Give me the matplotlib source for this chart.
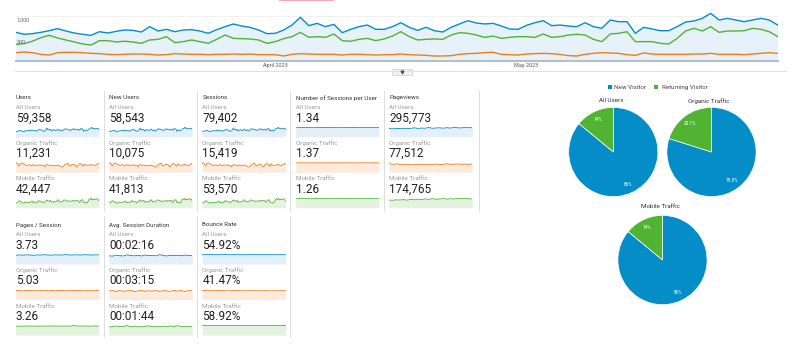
import numpy as np
import pandas as pd
import matplotlib
matplotlib.use('Agg')
import matplotlib.pyplot as plt
from matplotlib.patches import Rectangle

plt.rcParams['font.family'] = ['Roboto', 'DejaVu Sans']

W, H = 805, 361

# --- données journalières (utilisateurs), 1er mars -> 31 mai 2023
dates = pd.date_range('2023-03-01', '2023-05-31', freq='D')

all_users = [633, 589, 604, 633, 669, 713, 662, 618, 589, 567,
             647, 618, 655, 684, 677, 640, 758, 662, 699, 647,
             684, 691, 662, 611, 691, 758, 817, 772, 743, 684,
             604, 611, 684, 794, 964, 780, 831, 758, 809, 625,
             699, 758, 794, 699, 699, 758,
             845, 744, 677, 744, 669, 640, 744, 817, 890, 839,
             817, 831, 772, 706, 699, 787, 845, 890, 780, 794,
             772, 758, 845, 758, 721, 905, 868, 868, 611, 744,
             706, 669, 669, 758, 861, 883, 942, 1052, 905, 942,
             905, 868, 905, 942, 905, 794]
mobile_users = [368, 384, 436, 515, 567, 508, 464, 420, 375, 353,
                449, 449, 420, 436, 420, 390, 464, 478, 537, 405,
                427, 464, 427, 390, 478, 574, 500, 493, 486, 464,
                390, 427, 493, 537, 633, 522, 537, 522, 596, 449,
                436, 478, 500, 449, 486, 552,
                647, 537, 464, 478, 486, 478, 574, 625, 611, 574,
                522, 552, 500, 522, 537, 537, 522, 596, 522, 537,
                574, 589, 574, 478, 427, 596, 611, 647, 427, 427,
                427, 390, 375, 500, 662, 721, 662, 758, 633, 662,
                662, 669, 721, 699, 647, 537]
organic_users = [184, 199, 184, 147, 132, 184, 191, 191, 184, 169,
                 162, 147, 140, 147, 154, 154, 147, 132, 140, 162,
                 154, 147, 147, 140, 147, 147, 154, 147, 154, 140,
                 140, 140, 110, 147, 162, 154, 147, 147, 147, 132,
                 147, 147, 140, 132, 140, 140,
                 154, 140, 132, 125, 110, 110, 118, 147, 162, 169,
                 184, 191, 147, 140, 132, 154, 162, 169, 162, 147,
                 118, 110, 147, 169, 184, 177, 169, 140, 125, 177,
                 154, 147, 147, 147, 147, 154, 154, 169, 147, 147,
                 147, 140, 154, 169, 184, 169]

month_ticks = ['2023-04-01', '2023-05-01']
month_labels = ['April 2023', 'May 2023']

# --- tableaux de bord
segments = ['All Users', 'Organic Traffic', 'Mobile Traffic']
metrics = ['Users', 'New Users', 'Sessions', 'Number of Sessions per User',
           'Pageviews', 'Pages / Session', 'Avg. Session Duration', 'Bounce Rate']
values_all = ['59,358', '58,543', '79,402', '1.34', '295,773', '3.73', '00:02:16', '54.92%']
values_org = ['11,231', '10,075', '15,419', '1.37', '77,512', '5.03', '00:03:15', '41.47%']
values_mob = ['42,447', '41,813', '53,570', '1.26', '174,765', '3.26', '00:01:44', '58.92%']

# sparklines (lecture approximative)
spu_all = [1.34, 1.34, 1.33, 1.34, 1.34, 1.35, 1.34, 1.34, 1.33, 1.34, 1.34, 1.34,
           1.35, 1.34, 1.34, 1.34, 1.33, 1.34, 1.34, 1.34, 1.35, 1.34, 1.34, 1.34]
spu_org = [1.36, 1.38, 1.37, 1.36, 1.37, 1.38, 1.37, 1.36, 1.37, 1.37, 1.38, 1.36,
           1.37, 1.37, 1.38, 1.37, 1.36, 1.37, 1.38, 1.37, 1.37, 1.36, 1.38, 1.37]
spu_mob = [1.26, 1.25, 1.26, 1.26, 1.27, 1.26, 1.25, 1.26, 1.26, 1.26, 1.27, 1.26,
           1.26, 1.25, 1.26, 1.26, 1.27, 1.26, 1.26, 1.26, 1.25, 1.26, 1.27, 1.26]
pv_all = [3050, 2900, 3100, 3000, 3150, 2950, 3100, 3300, 3050, 3200, 3150, 3400,
          3100, 3250, 3300, 3150, 3350, 3200, 3450, 3300, 3250, 3500, 3300, 3400]
pv_org = [1000, 780, 900, 820, 800, 850, 780, 820, 800, 860, 790, 840,
          810, 870, 800, 830, 900, 820, 860, 880, 830, 870, 820, 880]
pv_mob = [1700, 1650, 1750, 1720, 1800, 1680, 1850, 1760, 1900, 1800, 1950, 1850,
          2000, 1880, 1950, 2050, 1900, 2000, 1950, 2100, 1980, 2050, 1950, 2000]
pps_all = [3.6, 3.75, 3.65, 3.8, 3.7, 3.6, 3.75, 3.7, 3.85, 3.7, 3.65, 3.8,
           3.7, 3.75, 3.9, 3.7, 3.75, 3.8, 3.7, 3.85, 3.75, 3.7, 3.8, 3.75]
pps_org = [4.9, 5.2, 4.8, 5.1, 4.9, 5.3, 4.8, 5.0, 5.2, 4.9, 5.1, 4.8,
           5.2, 5.0, 5.3, 4.9, 5.1, 5.2, 4.8, 5.3, 5.0, 4.9, 5.2, 5.0]
pps_mob = [3.2, 3.25, 3.2, 3.3, 3.22, 3.28, 3.2, 3.25, 3.3, 3.22, 3.35, 3.25,
           3.3, 3.2, 3.28, 3.25, 3.45, 3.3, 3.25, 3.3, 3.2, 3.28, 3.3, 3.25]
dur_all = [130, 125, 140, 132, 128, 145, 135, 130, 138, 127, 142, 133,
           136, 130, 150, 135, 128, 140, 133, 138, 130, 142, 135, 132]
dur_org = [190, 210, 180, 205, 185, 200, 215, 180, 195, 210, 185, 200,
           190, 215, 180, 205, 195, 185, 210, 190, 205, 180, 215, 195]
dur_mob = [98, 102, 110, 100, 105, 115, 100, 108, 102, 98, 106, 112,
           100, 104, 99, 108, 103, 110, 101, 115, 100, 106, 104, 102]
br_all = [55, 54.8, 55.1, 54.9, 54.7, 55.2, 55.5, 55, 54.8, 54.9, 55.1, 54.6,
          54.9, 55, 55.3, 54.8, 55, 54.9, 55.1, 55, 54.7, 55, 54.9, 55]
br_org = [41, 42, 41.5, 42.5, 41.2, 42, 41.8, 43, 41.5, 42.2, 41.4, 42,
          42.8, 41.6, 42.3, 41.8, 42.6, 41.5, 42.2, 43, 41.7, 42.5, 42, 41.8]
br_mob = [59, 58.8, 59.1, 59, 58.9, 59.2, 58.8, 59, 59.1, 58.9, 59, 58.8,
          59.2, 59, 58.9, 59.1, 59, 58.8, 59, 59.1, 58.9, 59, 59.1, 59]

# Users / New Users / Sessions : même allure que la courbe principale
spark_data = [
    (all_users, organic_users, mobile_users),
    (all_users, organic_users, mobile_users),
    (all_users, organic_users, mobile_users),
    (spu_all, spu_org, spu_mob),
    (pv_all, pv_org, pv_mob),
    (pps_all, pps_org, pps_mob),
    (dur_all, dur_org, dur_mob),
    (br_all, br_org, br_mob),
]

# --- camemberts
pie_titles = ['All Users', 'Organic Traffic', 'Mobile Traffic']
pie_new = [86, 79.8, 86]
pie_ret = [14, 20.1, 14]
pie_labels_new = ['86%', '79.8%', '86%']
pie_labels_ret = ['14%', '20.1%', '14%']
legend_labels = ['New Visitor', 'Returning Visitor']

BLUE, GREEN, ORANGE = '#058DC7', '#50B432', '#ED7E17'
LIGHT = {BLUE: '#e3eff9', ORANGE: '#fcebdc', GREEN: '#e3f3dd'}
seg_colors = [BLUE, ORANGE, GREEN]

fig = plt.figure(figsize=(W / 100, H / 100), dpi=100)
fig.patch.set_facecolor('white')


def add_ax(x0, y0, x1, y1):
    # coordonnées en pixels, y depuis le haut
    return fig.add_axes([x0 / W, 1 - y1 / H, (x1 - x0) / W, (y1 - y0) / H])


bg = fig.add_axes([0, 0, 1, 1])
bg.set_xlim(0, W)
bg.set_ylim(H, 0)
bg.axis('off')

# 1. Courbe principale
ax = add_ax(15.7, 8, 777.7, 61)
ax.fill_between(dates, all_users, 0, color='#e6f1fa', lw=0)
ax.axhline(500, color='#eeeeee', lw=0.6, zorder=0)
ax.axhline(1000, color='#eeeeee', lw=0.6, zorder=0)
ax.plot(dates, organic_users, color=ORANGE, lw=1.0)
ax.plot(dates, mobile_users, color=GREEN, lw=1.0)
ax.plot(dates, all_users, color=BLUE, lw=1.0)
ax.set_xlim(dates[0], dates[-1])
ax.set_ylim(0, 1170)
ax.set_yticks([])
ax.set_xticks(pd.to_datetime(month_ticks))
ax.set_xticklabels(month_labels, fontsize=4, color='#555555')
ax.tick_params(axis='x', length=0, pad=1.8)
for s in ['top', 'left', 'right']:
    ax.spines[s].set_visible(False)
ax.spines['bottom'].set_color('#b5bfca')
ax.spines['bottom'].set_linewidth(1.5)
ax.patch.set_alpha(0)

# étiquettes de l'axe y, au-dessus du remplissage
fig.text(16.7 / W, 1 - 20 / H, '1,000', fontsize=4, color='#666666', va='center')
fig.text(16.7 / W, 1 - 43 / H, '500', fontsize=4, color='#666666', va='center')

bg.plot([15, 786], [71, 71], color='#e2e2e2', lw=0.8)
bg.add_patch(Rectangle((392, 68.5), 20, 6, facecolor='#f2f2f2', edgecolor='#cccccc', lw=0.5))
bg.plot([402], [71.5], marker='v', markersize=2, color='#555555')
bg.add_patch(Rectangle((279, 0), 55, 1.4, facecolor='#f4a7b9', lw=0))

# 2. Tableaux de bord
col_x = [15.7, 109, 202.3, 295.7, 389, 15.7, 109, 202.3]
block_top = [97.7] * 5 + [225] * 3
SPARK_W = 83.3
for i, name in enumerate(metrics):
    x0, T = col_x[i], block_top[i]
    bg.text(x0, T, name, fontsize=4.5, color='#333333', va='center')
    vals = [values_all[i], values_org[i], values_mob[i]]
    for j in range(3):
        off = 35.5 * j
        bg.text(x0, T + 10 + off, segments[j], fontsize=4.5, color='#9a9a9a', va='center')
        bg.text(x0, T + 20.5 + off, vals[j], fontsize=8.5, color='#222222', va='center')
        sp = add_ax(x0, T + 29 + off, x0 + SPARK_W, T + 39 + off)
        d = spark_data[i][j]
        xs = np.arange(len(d))
        c = seg_colors[j]
        sp.fill_between(xs, d, 0, color=LIGHT[c], lw=0)
        sp.plot(xs, d, color=c, lw=0.6)
        sp.set_xlim(0, len(d) - 1)
        sp.set_ylim(0, max(d) * 1.06)
        sp.axis('off')

for x in [103.5, 196.7, 290, 384, 479]:
    bg.plot([x, x], [91, 211], color='#dddddd', lw=0.7)
for x in [104, 196.7, 290]:
    bg.plot([x, x], [216, 337], color='#dddddd', lw=0.7)

# 3. Camemberts
bg.add_patch(Rectangle((607.5, 85.3), 4, 4, facecolor=BLUE, lw=0))
bg.text(614, 87.5, legend_labels[0], fontsize=4.5, color='#444444', va='center')
bg.add_patch(Rectangle((654.3, 85.3), 4, 4, facecolor=GREEN, lw=0))
bg.text(661.5, 87.5, legend_labels[1], fontsize=4.5, color='#444444', va='center')

pie_pos = [(613.3, 152, 611, 100.7), (711.5, 152, 709, 100.7), (662.5, 260, 660, 206.7)]
R = 44.6
for k, (cx, cy, tx, ty) in enumerate(pie_pos):
    pa = add_ax(cx - R, cy - R, cx + R, cy + R)
    wedges, _ = pa.pie([pie_new[k], pie_ret[k]], colors=[BLUE, GREEN], startangle=90,
                       counterclock=False, radius=1,
                       wedgeprops=dict(edgecolor='white', linewidth=0.5))
    for w, lab in zip(wedges, [pie_labels_new[k], pie_labels_ret[k]]):
        ang = np.deg2rad((w.theta1 + w.theta2) / 2)
        pa.text(0.8 * np.cos(ang), 0.8 * np.sin(ang), lab, fontsize=3.3,
                color='white', ha='center', va='center')
    pa.set_xlim(-1, 1)
    pa.set_ylim(-1, 1)
    pa.set_aspect('equal')
    pa.axis('off')
    bg.text(tx, ty, pie_titles[k], fontsize=4.5, color='#333333', ha='center', va='center')

fig.savefig('out.png', dpi=100)
